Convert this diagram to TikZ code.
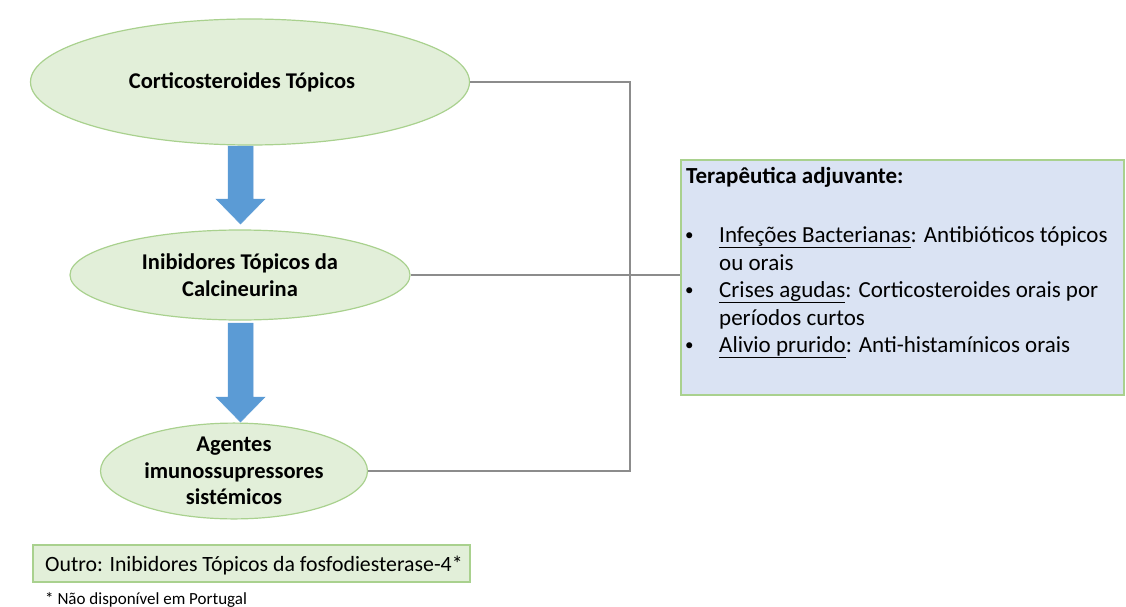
\documentclass[tikz,border=0pt]{standalone}
\usepackage{fontspec}
\setmainfont{Carlito}
\usetikzlibrary{shapes.geometric}
\definecolor{ellfill}{HTML}{E2EFD9}
\definecolor{ellline}{HTML}{A9D18E}
\definecolor{arrblue}{HTML}{5B9BD5}
\definecolor{boxfill}{HTML}{DAE3F3}
\definecolor{conn}{HTML}{8C8C8C}
\tikzset{
  ell/.style={ellipse, draw=ellline, fill=ellfill, line width=1.2pt, inner sep=0pt, align=center, font=\fontsize{22.5}{26.5}\selectfont\bfseries},
  flow/.style={draw=arrblue, fill=arrblue, line width=0.5pt},
  link/.style={draw=conn, line width=1.2pt},
  txt/.style={anchor=base west, inner sep=0pt, font=\fontsize{23}{27}\selectfont},
  bul/.style={anchor=base west, inner sep=0pt, font=\fontsize{17}{20}\selectfont},
}
\begin{document}
\begin{tikzpicture}[x=1pt,y=-1pt]
\useasboundingbox (0,0) rectangle (1126,607);
\node[ell, minimum width=439pt, minimum height=126pt] (e1) at (250,82) {Corticosteroides Tópicos\hspace*{16pt}};
\node[ell, minimum width=340pt, minimum height=90pt] (e2) at (240,275) {Inibidores Tópicos da\\Calcineurina};
\node[ell, minimum width=267pt, minimum height=92pt] (e3) at (234,471) {Agentes\\imunossupressores\\sistémicos};
% block arrows
\path[flow] (228,146) -- (253,146) -- (253,199) -- (265,199) -- (240.5,224) -- (216,199) -- (228,199) -- cycle;
\path[flow] (228,323) -- (253,323) -- (253,397) -- (265,397) -- (240.5,422) -- (216,397) -- (228,397) -- cycle;
% adjuvant box
\node[draw=ellline, fill=boxfill, line width=1.2pt, minimum width=443pt, minimum height=235pt, inner sep=0pt] (adj) at (902.5,277.5) {};
\coordinate (c1) at (630,82);
\coordinate (c3) at (630,471);
\draw[link] (e1.east) -- (c1) -- (c3) -- (e3.east);
\draw[link] (e2.east) -- (e2.east -| adj.west);
\node[txt, font=\fontsize{23}{27}\selectfont\bfseries] (t0) at (686,183) {Terapêutica adjuvante:};
\node[bul] (b1) at (685,240) {\textbullet};
\node[txt] (l1) at (719,242) {\underline{Infeções Bacterianas}: Antibióticos tópicos};
\node[txt] (l2) at (719,270) {ou orais};
\node[bul] (b2) at (685,295) {\textbullet};
\node[txt] (l3) at (719,297) {\underline{Crises agudas}: Corticosteroides orais por};
\node[txt] (l4) at (719,325) {períodos curtos};
\node[bul] (b3) at (685,350) {\textbullet};
\node[txt] (l5) at (719,352) {\underline{Alivio prurido}: Anti-histamínicos orais};
% outro
\node[draw=ellline, fill=ellfill, line width=1.2pt, minimum width=437pt, minimum height=37pt, inner sep=0pt] (out) at (251.5,563.5) {};
\node[txt, font=\fontsize{21.8}{26}\selectfont] (outt) at (45,571) {Outro: Inibidores Tópicos da fosfodiesterase-4*};
\node[txt, font=\fontsize{17}{20}\selectfont] (fn) at (45,604) {* Não disponível em Portugal};
\end{tikzpicture}
\end{document}
